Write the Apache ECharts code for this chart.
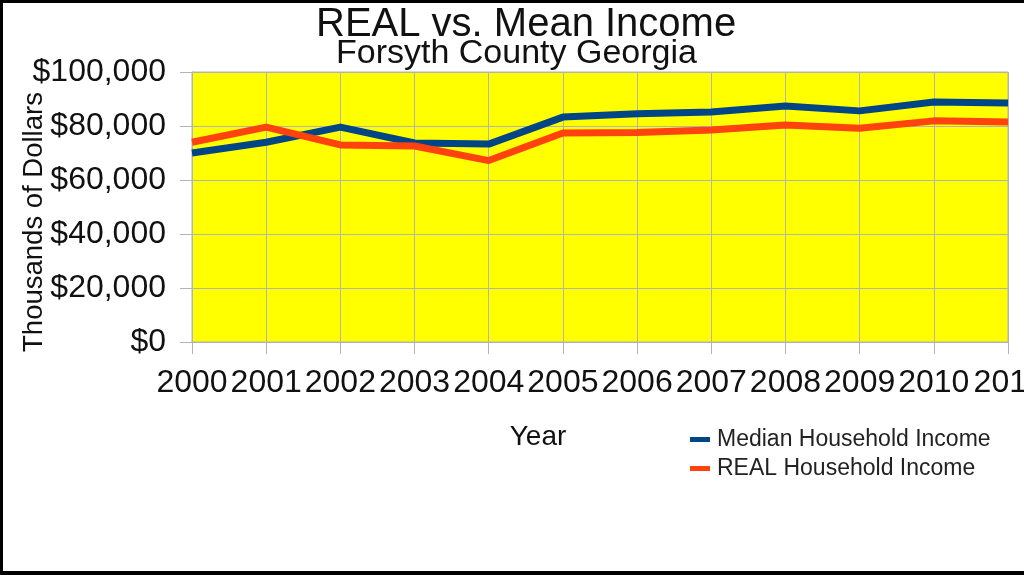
<!DOCTYPE html>
<html>
<head>
<meta charset="utf-8">
<script src="https://cdn.jsdelivr.net/npm/echarts@6/dist/echarts.min.js"></script>
<style>
html,body{margin:0;padding:0;background:#fff;}
#chart{width:1024px;height:575px;}
</style>
</head>
<body>
<div id="chart"></div>
<script>
var years = ['2000','2001','2002','2003','2004','2005','2006','2007','2008','2009','2010','2011'];
var medianIncome = [70000, 74000, 79600, 73700, 73300, 83300, 84500, 85200, 87400, 85600, 88900, 88500];
var realIncome = [74000, 79600, 73000, 72600, 67200, 77400, 77600, 78500, 80400, 79200, 81900, 81500];
var seriesNames = ['Median Household Income', 'REAL Household Income'];
var titleText = 'REAL vs. Mean Income';
var subtitleText = 'Forsyth County Georgia';
var yAxisTitle = 'Thousands of Dollars';
var xAxisTitle = 'Year';

var FONT = 'Liberation Sans, Arial, sans-serif';
function money(v){ return '$' + String(v).replace(/\B(?=(\d{3})+(?!\d))/g, ','); }

var chart = echarts.init(document.getElementById('chart'), null, {renderer:'canvas'});
chart.setOption({
  backgroundColor: '#ffffff',
  animation: false,
  title: [
    {text: titleText, left: 316, top: 5, padding: 0,
     textStyle: {fontFamily: FONT, fontSize: 40, fontWeight: 'normal', color: '#111'}},
    {text: subtitleText, left: 336, top: 37, padding: 0,
     textStyle: {fontFamily: FONT, fontSize: 34, fontWeight: 'normal', color: '#111'}}
  ],
  grid: {left: 192, right: 16, top: 72, bottom: 233, show: true, outerBoundsMode: 'none',
         containLabel: false,
         backgroundColor: '#ffff00', borderColor: '#b3b3b3', borderWidth: 1},
  legend: {
    orient: 'vertical', left: 690, top: 428, itemGap: 6, padding: 0,
    icon: 'rect', itemWidth: 20, itemHeight: 5,
    textStyle: {fontFamily: FONT, fontSize: 23, color: '#222', padding: [0,0,0,2]},
    data: seriesNames
  },
  xAxis: {
    type: 'category', data: years, boundaryGap: false,
    axisLine: {show: true, lineStyle: {color: '#b3b3b3'}},
    axisTick: {show: true, length: 12, interval: 0, lineStyle: {color: '#b3b3b3'}},
    axisLabel: {interval: 0, margin: 25, hideOverlap: false, fontFamily: FONT, fontSize: 32, color: '#111'},
    splitLine: {show: true, lineStyle: {color: '#b3b3b3'}}
  },
  yAxis: {
    type: 'value', min: 0, max: 100000, interval: 20000,
    axisLine: {show: true, lineStyle: {color: '#b3b3b3'}},
    axisTick: {show: true, length: 12, lineStyle: {color: '#b3b3b3'}},
    axisLabel: {margin: 26, fontFamily: FONT, fontSize: 32, color: '#111', formatter: money},
    splitLine: {show: true, lineStyle: {color: '#b3b3b3'}}
  },
  series: [
    {name: seriesNames[0], type: 'line', data: medianIncome, showSymbol: false, symbol: 'none',
     lineStyle: {width: 7, color: '#004586', join: 'round'}, itemStyle: {color: '#004586'}},
    {name: seriesNames[1], type: 'line', data: realIncome, showSymbol: false, symbol: 'none',
     lineStyle: {width: 7, color: '#ff420e', join: 'round'}, itemStyle: {color: '#ff420e'}}
  ],
  graphic: [
    {type: 'text', x: 34, y: 222, rotation: Math.PI/2,
     style: {text: yAxisTitle, fontFamily: FONT, fontSize: 27.5, fill: '#111', align: 'center', verticalAlign: 'middle'}},
    {type: 'text', x: 538, y: 437,
     style: {text: xAxisTitle, fontFamily: FONT, fontSize: 28, fill: '#111', align: 'center', verticalAlign: 'middle'}},
    {type: 'rect', shape: {x: 0, y: 0, width: 1024, height: 3}, style: {fill: '#000'}},
    {type: 'rect', shape: {x: 0, y: 0, width: 3, height: 575}, style: {fill: '#000'}},
    {type: 'rect', shape: {x: 0, y: 571, width: 1024, height: 4}, style: {fill: '#000'}}
  ]
});
</script>
</body>
</html>
